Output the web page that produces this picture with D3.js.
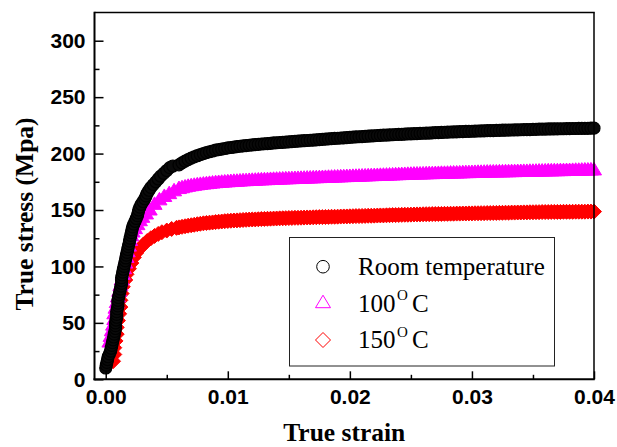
<!DOCTYPE html>
<html>
<head>
<meta charset="utf-8">
<script src="https://cdn.jsdelivr.net/npm/d3@7/dist/d3.min.js"></script>
<style>
  html, body { margin: 0; padding: 0; background: #fff; }
  svg { display: block; }
</style>
</head>
<body>
<svg id="chart" width="617" height="447"></svg>
<script>
// ---------- DATA ----------
const xMajorTicks = [0, 0.01, 0.02, 0.03, 0.04];
const xTickLabels = ["0.00", "0.01", "0.02", "0.03", "0.04"];
const xMinorTicks = [0.005, 0.015, 0.025, 0.035];
const yMajorTicks = [0, 50, 100, 150, 200, 250, 300];
const yMinorTicks = [25, 75, 125, 175, 225, 275];

const seriesNames = ["Room temperature", "100", "150"];

// rising (early) part of each curve
const rtStrainA = [0.0000,0.00005,0.0001,0.00015,0.0002,0.0003,0.0004,0.00045,0.0005,0.00055,0.0006,0.00065,0.0007,0.00075,0.0008,0.0008,0.0008,0.00085,0.0009,0.0009,0.0009,0.00095,0.0010,0.0010,0.0010,0.00105,0.0011,0.00115,0.0012,0.00125,0.0013,0.0013,0.0013,0.00135,0.0014,0.00145,0.0015,0.00155,0.0016,0.00165,0.0017,0.00175,0.0018,0.00185,0.0019,0.00195,0.0020,0.00205,0.0021,0.00215,0.0022,0.0023,0.0024,0.0025,0.0026,0.00265,0.0027,0.0028,0.0029,0.00305,0.0032,0.0033,0.0034,0.00355,0.0037,0.0039,0.0041,0.0043,0.0045,0.00475,0.0050,0.00525,0.0055];
const rtStressA = [10,12.5,15,17.5,20,22.5,25,27.5,30,32.5,35,37.5,40,42.5,45,47.5,50,52.5,55,57.5,60,62.5,65,67.5,70,72.5,75,77.5,80,82.5,85,87.5,90,92.5,95,97.5,100,102.5,105,107.5,110,112.5,115,117.5,120,122.5,125,127.5,130,132.5,135,137.5,140,142.5,145,147.5,150,152.5,155,157.5,160,162.5,165,167.5,170,172.5,175,177.5,180,182.5,185,187.5,189];

const t100StrainA = [0.0003,0.0004,0.0005,0.0006,0.0007,0.0007,0.0008,0.0009,0.0010,0.0011,0.0012,0.0013,0.0014,0.0015,0.0016,0.0017,0.0018,0.0019,0.0020,0.0021,0.0022,0.0024,0.0026,0.0028,0.0030,0.0033,0.0036,0.0040,0.0044,0.0048,0.0052,0.0056];
const t100StressA = [33,38,43,48,53,58,63,68,73,78,83,88,93,98,103,108,113,118,123,127,130.5,133.5,137,140.5,143.5,146.5,150,155,159,162,164.5,167];

const t150StrainA = [0.0006,0.0007,0.0007,0.0008,0.0009,0.0009,0.0010,0.0011,0.0012,0.0012,0.0013,0.0014,0.0016,0.0017,0.0019,0.0021,0.0023,0.0025,0.0028,0.0031,0.0034,0.0037,0.0040,0.0043,0.0046,0.0050,0.0054,0.0058];
const t150StressA = [16,22,28,34,40,46,52,58,64,70,76,82,88,93,98,103,108,112,116,119.5,122.5,125,127,128.8,130.3,131.8,133.2,134.2];

// plateau part: shared strain samples
const plateauStrain = [0.006,0.00625,0.0065,0.00675,0.007,0.00725,0.0075,0.00775,0.008,0.00825,0.0085,0.00875,0.009,0.00925,0.0095,0.00975,0.01,0.01025,0.0105,0.01075,0.011,0.01125,0.0115,0.01175,0.012,0.01225,0.0125,0.01275,0.013,0.01325,0.0135,0.01375,0.014,0.01425,0.0145,0.01475,0.015,0.01525,0.0155,0.01575,0.016,0.01625,0.0165,0.01675,0.017,0.01725,0.0175,0.01775,0.018,0.01825,0.0185,0.01875,0.019,0.01925,0.0195,0.01975,0.02,0.02025,0.0205,0.02075,0.021,0.02125,0.0215,0.02175,0.022,0.02225,0.0225,0.02275,0.023,0.02325,0.0235,0.02375,0.024,0.02425,0.0245,0.02475,0.025,0.02525,0.0255,0.02575,0.026,0.02625,0.0265,0.02675,0.027,0.02725,0.0275,0.02775,0.028,0.02825,0.0285,0.02875,0.029,0.02925,0.0295,0.02975,0.03,0.03025,0.0305,0.03075,0.031,0.03125,0.0315,0.03175,0.032,0.03225,0.0325,0.03275,0.033,0.03325,0.0335,0.03375,0.034,0.03425,0.0345,0.03475,0.035,0.03525,0.0355,0.03575,0.036,0.03625,0.0365,0.03675,0.037,0.03725,0.0375,0.03775,0.038,0.03825,0.0385,0.03875,0.039,0.03925,0.0395,0.03975,0.04];

const rtStressB = [190,191.8,193.3,194.7,196,
197.1,198.1,199.1,200, 200.8,201.6,202.3,203, 203.5,204,204.5,205, 205.4,205.8,206.2,206.5,
206.8,207.1,207.4,207.7, 208,208.2,208.5,208.7, 208.9,209.1,209.4,209.6, 209.8,210,210.2,210.4,
210.6,210.8,211,211.2, 211.4,211.6,211.8,212, 212.2,212.4,212.6,212.8, 213,213.2,213.4,213.6,
213.8,214,214.2,214.4, 214.6,214.8,214.9,215.1, 215.3,215.5,215.6,215.8, 216,216.1,216.3,216.4,
216.6,216.7,216.9,217, 217.1,217.2,217.4,217.5, 217.6,217.7,217.9,218, 218.1,218.2,218.4,218.5,
218.6,218.7,218.9,219, 219.1,219.2,219.3,219.4, 219.5,219.6,219.7,219.8, 219.9,220,220.1,220.2,
220.3,220.4,220.4,220.5, 220.6,220.7,220.7,220.8, 220.9,221,221,221.1, 221.2,221.3,221.3,221.4,
221.5,221.6,221.6,221.7, 221.8,221.8,221.9,221.9, 222,222,222.1,222.1, 222.2,222.2,222.3,222.3,
222.4,222.4,222.5,222.5];

const t100StressB = [169,169.7,170.4,171,171.5,
171.9,172.3,172.7,173, 173.3,173.6,173.9,174.2, 174.4,174.6,174.8,175, 175.2,175.4,175.5,175.7,
175.9,176,176.2,176.3, 176.4,176.6,176.7,176.8, 176.9,177.1,177.2,177.3, 177.4,177.5,177.6,177.7,
177.8,177.9,178,178.1, 178.2,178.3,178.4,178.5, 178.6,178.7,178.8,178.9, 179,179.1,179.2,179.3,
179.4,179.5,179.6,179.7, 179.8,179.9,180,180.1, 180.2,180.3,180.4,180.5, 180.6,180.7,180.8,180.9,
181,181.1,181.2,181.3, 181.4,181.5,181.6,181.7, 181.8,181.9,181.9,182, 182.1,182.2,182.2,182.3,
182.4,182.5,182.5,182.6, 182.7,182.8,182.8,182.9, 183,183.1,183.1,183.2, 183.3,183.4,183.4,183.5,
183.6,183.6,183.7,183.7, 183.8,183.8,183.9,183.9, 184,184,184.1,184.1, 184.2,184.2,184.3,184.3,
184.4,184.5,184.5,184.6, 184.7,184.7,184.8,184.8, 184.9,184.9,185,185, 185.1,185.2,185.2,185.3,
185.4,185.4,185.5,185.5];

const t150StressB = [134.6,135.1,135.6,136.1,136.5,
136.9,137.4,137.8,138.2, 138.5,138.8,139,139.3, 139.6,139.8,140.1,140.3, 140.5,140.7,140.8,141,
141.2,141.3,141.5,141.6, 141.7,141.8,142,142.1, 142.2,142.3,142.4,142.5, 142.6,142.7,142.8,142.9,
143,143.1,143.1,143.2, 143.3,143.4,143.4,143.5, 143.6,143.7,143.7,143.8, 143.9,144,144,144.1,
144.2,144.3,144.3,144.4, 144.5,144.6,144.6,144.7, 144.8,144.9,144.9,145, 145.1,145.2,145.2,145.3,
145.4,145.5,145.5,145.6, 145.7,145.8,145.8,145.9, 146,146.1,146.1,146.2, 146.3,146.3,146.4,146.4,
146.5,146.5,146.6,146.6, 146.7,146.7,146.8,146.8, 146.9,146.9,147,147, 147.1,147.1,147.2,147.2,
147.3,147.3,147.4,147.4, 147.5,147.5,147.6,147.6, 147.7,147.7,147.8,147.8, 147.9,147.9,148,148,
148.1,148.1,148.2,148.2, 148.2,148.3,148.3,148.3, 148.3,148.4,148.4,148.4, 148.4,148.5,148.5,148.5,
148.5,148.6,148.6,148.6];

// ---------- BUILD ----------
function pts(sa, ya, sb, yb) {
  const out = sa.map((s, i) => ({ s: s, v: ya[i] }));
  sb.forEach((s, i) => { if (yb[i] !== undefined) out.push({ s: s, v: yb[i] }); });
  return out.filter(d => d.s !== undefined && d.v !== undefined);
}
const rtPts   = pts(rtStrainA, rtStressA, plateauStrain, rtStressB);
const t100Pts = pts(t100StrainA, t100StressA, plateauStrain, t100StressB);
const t150Pts = pts(t150StrainA, t150StressA, plateauStrain, t150StressB);

const svg = d3.select("#chart");
const L = 94.5, R = 594, T = 12.5, B = 379.3;
const x = d3.scaleLinear().domain([-0.00092, 0.04]).range([L, R]);
const y = d3.scaleLinear().domain([0, 325]).range([B, T]);

const triPath = "M0,-7.5L7.5,5L-7.5,5Z";
const diaPath = "M0,-7.5L7.5,0L0,7.5L-7.5,0Z";

// markers: 150 first, then 100, then RT on top
const g = svg.append("g");
g.selectAll("path.d150").data(t150Pts).join("path")
  .attr("class", "d150")
  .attr("d", diaPath)
  .attr("transform", d => `translate(${x(d.s)},${y(d.v)})`)
  .attr("fill", "#ff0000").attr("stroke", "#ff0000").attr("stroke-width", 1);

g.selectAll("path.d100").data(t100Pts).join("path")
  .attr("class", "d100")
  .attr("d", triPath)
  .attr("transform", d => `translate(${x(d.s)},${y(d.v)})`)
  .attr("fill", "#ff00ff").attr("stroke", "#ff00ff").attr("stroke-width", 1);

g.selectAll("circle.drt").data(rtPts).join("circle")
  .attr("class", "drt")
  .attr("cx", d => x(d.s)).attr("cy", d => y(d.v)).attr("r", 6)
  .attr("fill", "#0a0a0a").attr("stroke", "#000").attr("stroke-width", 1.2);

// ---------- AXES ----------
const tickFont = "'Liberation Sans', Arial, sans-serif";
const serif = "'Liberation Serif', 'Times New Roman', serif";

const xAxis = svg.append("g").attr("transform", `translate(0,${B})`)
  .call(d3.axisBottom(x).tickValues(xMajorTicks).tickSize(-8).tickPadding(14)
        .tickFormat((d, i) => xTickLabels[i]));
xAxis.select(".domain").remove();
xAxis.selectAll(".tick line").attr("stroke", "#000").attr("stroke-width", 1.5);
xAxis.selectAll(".tick text").attr("font-family", tickFont).attr("font-weight", "bold")
  .attr("font-size", 21).attr("fill", "#000").attr("dy", "0.71em").attr("y", 10);

const xMinor = svg.append("g").attr("transform", `translate(0,${B})`)
  .call(d3.axisBottom(x).tickValues(xMinorTicks).tickSize(-4.5).tickFormat(""));
xMinor.select(".domain").remove();
xMinor.selectAll(".tick line").attr("stroke", "#000").attr("stroke-width", 1.5);

const yAxis = svg.append("g").attr("transform", `translate(${L},0)`)
  .call(d3.axisLeft(y).tickValues(yMajorTicks).tickSize(-9).tickPadding(9));
yAxis.select(".domain").remove();
yAxis.selectAll(".tick line").attr("stroke", "#000").attr("stroke-width", 1.5);
yAxis.selectAll(".tick text").attr("font-family", tickFont).attr("font-weight", "bold")
  .attr("font-size", 21).attr("fill", "#000").attr("x", -9);

const yMinor = svg.append("g").attr("transform", `translate(${L},0)`)
  .call(d3.axisLeft(y).tickValues(yMinorTicks).tickSize(-5).tickFormat(""));
yMinor.select(".domain").remove();
yMinor.selectAll(".tick line").attr("stroke", "#000").attr("stroke-width", 1.5);

// frame
svg.append("line").attr("x1", L).attr("x2", L).attr("y1", T - 0.75).attr("y2", B + 1)
  .attr("stroke", "#000").attr("stroke-width", 2);
svg.append("line").attr("x1", L - 1).attr("x2", R + 0.75).attr("y1", B).attr("y2", B)
  .attr("stroke", "#000").attr("stroke-width", 2);
svg.append("line").attr("x1", L).attr("x2", R + 0.75).attr("y1", T).attr("y2", T)
  .attr("stroke", "#000").attr("stroke-width", 1.5);
svg.append("line").attr("x1", R).attr("x2", R).attr("y1", T).attr("y2", B)
  .attr("stroke", "#000").attr("stroke-width", 1.5);

// axis titles
svg.append("text").attr("x", (L + R) / 2).attr("y", 441)
  .attr("text-anchor", "middle").attr("font-family", serif).attr("font-weight", "bold")
  .attr("font-size", 25.5).attr("fill", "#000").text("True strain");
svg.append("text").attr("transform", "translate(33,214) rotate(-90)")
  .attr("text-anchor", "middle").attr("font-family", serif).attr("font-weight", "bold")
  .attr("font-size", 25.5).attr("fill", "#000").text("True stress (Mpa)");

// ---------- LEGEND ----------
const lg = svg.append("g");
lg.append("rect").attr("x", 289.5).attr("y", 237.5).attr("width", 265).attr("height", 128.5)
  .attr("fill", "#fff").attr("stroke", "#222").attr("stroke-width", 1);

const legY = [266.7, 302.7, 340];
const legBase = [275, 311.7, 348.3];
lg.append("circle").attr("cx", 323).attr("cy", legY[0]).attr("r", 6.3)
  .attr("fill", "#fff").attr("stroke", "#000").attr("stroke-width", 1);
lg.append("path").attr("d", triPath).attr("transform", `translate(323,${legY[1]})`)
  .attr("fill", "#fff").attr("stroke", "#ff00ff").attr("stroke-width", 1);
lg.append("path").attr("d", diaPath).attr("transform", `translate(323,${legY[2]})`)
  .attr("fill", "#fff").attr("stroke", "#ff0000").attr("stroke-width", 1);

lg.append("text").attr("x", 358).attr("y", legBase[0]).attr("font-family", serif)
  .attr("font-size", 25).attr("fill", "#000").text(seriesNames[0]);
[1, 2].forEach(i => {
  const t = lg.append("text").attr("y", legBase[i]).attr("font-family", serif)
    .attr("font-size", 25).attr("fill", "#000");
  t.append("tspan").attr("x", 358).text(seriesNames[i]);
  t.append("tspan").attr("x", 397).attr("dy", -11.5).attr("font-size", 15).text("O");
  t.append("tspan").attr("x", 412).attr("dy", 11.5).text("C");
});
</script>
</body>
</html>
